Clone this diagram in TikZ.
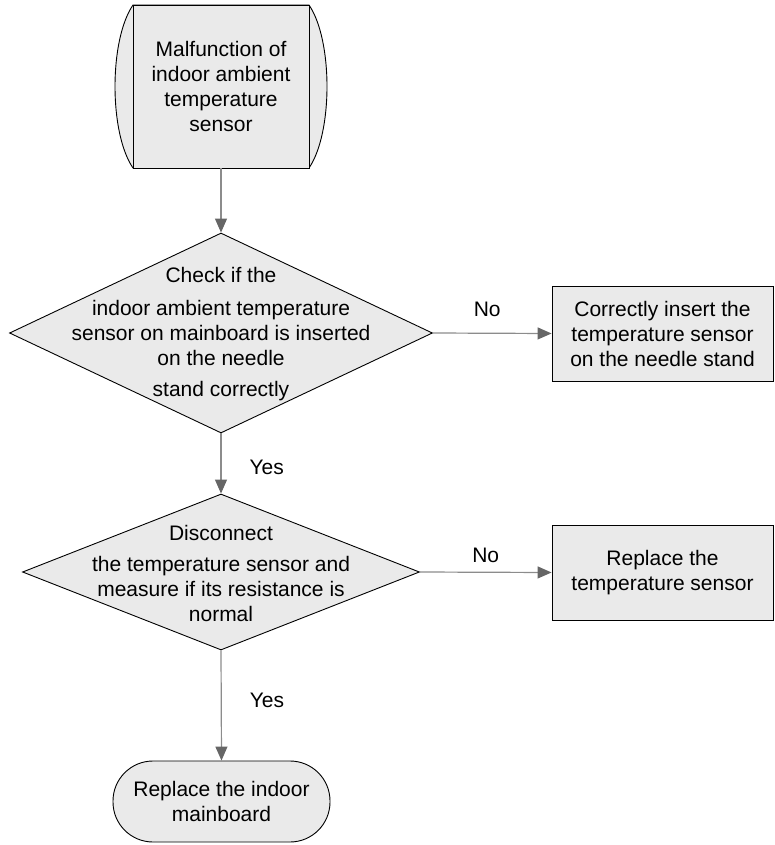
\documentclass[tikz,border=0pt]{standalone}
\usepackage{fontspec}
\setmainfont{Liberation Sans}
\usetikzlibrary{arrows.meta,shapes.geometric}
\definecolor{boxfill}{HTML}{EAEAEA}
\definecolor{lineg}{HTML}{8C8C8C}
\definecolor{tipg}{HTML}{666666}
\begin{document}
\begin{tikzpicture}[x=1pt,y=-1pt,
  every node/.style={font=\fontsize{21}{25}\selectfont, text=black},
  shapebox/.style={draw=black, line width=0.9pt, fill=boxfill},
  conn/.style={draw=lineg, line width=1.2pt, -{Triangle[length=14pt,width=12pt,color=tipg,fill=tipg]}},
  lbl/.style={inner sep=0pt}]
\useasboundingbox (0,0) rectangle (774,845);

% start shape
\path[shapebox] (133,5) .. controls (109,40) and (109,133) .. (133,168) -- (309,168) .. controls (333,133) and (333,40) .. (309,5) -- cycle;
\node[shapebox, rectangle, minimum width=176pt, minimum height=163pt, inner sep=0pt, align=center] (start) at (221,86.5) {Malfunction of\\indoor ambient\\temperature\\sensor};

% decision 1
\node[shapebox, diamond, minimum width=423pt, minimum height=200pt, inner sep=0pt] (d1) at (221,333) {};
\node[align=center, inner sep=0pt] (t1) at (221,334) {Check if the\\[8pt]indoor ambient temperature\\sensor on mainboard is inserted\\on the needle\\[6pt]stand correctly};

\node[shapebox, rectangle, minimum width=221pt, minimum height=95pt, inner sep=0pt, align=center] (b1) at (662.5,333.5) {Correctly insert the\\temperature sensor\\on the needle stand};

% decision 2
\node[shapebox, diamond, minimum width=397pt, minimum height=156pt, inner sep=0pt] (d2) at (221,572) {};
\node[align=center, inner sep=0pt] (t2) at (221,573) {Disconnect\\[6pt]the temperature sensor and\\measure if its resistance is\\normal};

\node[shapebox, rectangle, minimum width=221pt, minimum height=95pt, inner sep=0pt, align=center] (b2) at (662.5,572.5) {Replace the\\temperature sensor};

% end
\node[shapebox, rectangle, rounded corners=40pt, minimum width=217pt, minimum height=81pt, inner sep=0pt, align=center] (end) at (221.5,801.5) {Replace the indoor\\mainboard};

% connectors
\draw[conn] (start.south) -- (d1.north);
\draw[conn] (d1.east) -- node[lbl, above=15.5pt, xshift=-5pt] {No} (b1.west);
\draw[conn] (d1.south) -- node[lbl, right=28pt, yshift=-3.5pt] {Yes} (d2.north);
\draw[conn] (d2.east) -- node[lbl, above=8.5pt] {No} (b2.west);
\draw[conn] (d2.south) -- node[lbl, right=28pt, yshift=5.5pt] {Yes} (end.north);
\end{tikzpicture}
\end{document}
